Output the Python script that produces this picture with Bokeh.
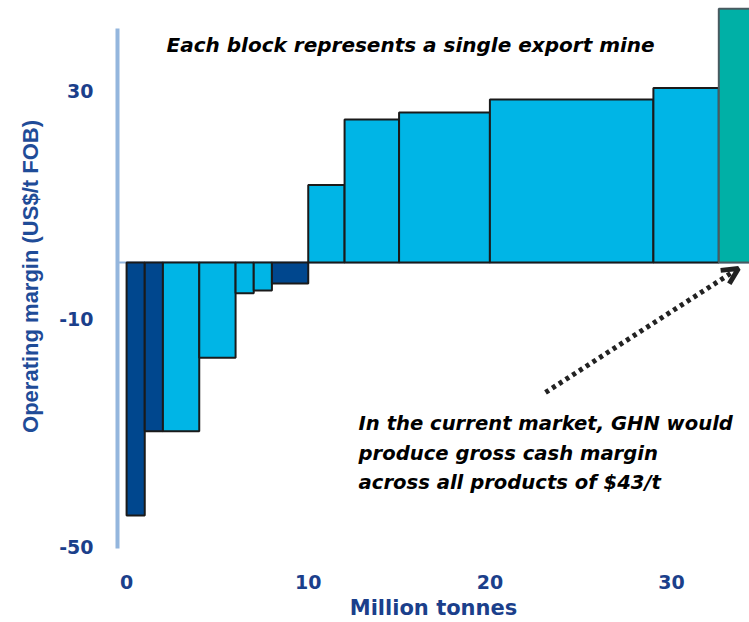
import numpy as np
from bokeh.plotting import figure
from bokeh.models import FixedTicker, Label, Arrow, OpenHead, Span, Range1d
from bokeh.embed import file_html
from bokeh.resources import INLINE

# ---- data ----
mine_volume_mt = [1, 1, 2, 2, 1, 1, 2, 2, 3, 5, 9, 3.6, 3.0]
operating_margin = [-44.4, -29.6, -29.6, -16.7, -5.4, -4.9, -3.7,
                    13.6, 25.1, 26.3, 28.6, 30.6, 44.5]
mine_group = ["dark", "dark", "light", "light", "light", "light", "dark",
              "light", "light", "light", "light", "light", "GHN"]
x_ticks = [0, 10, 20, 30]
x_tick_labels = ["0", "10", "20", "30"]
y_ticks = [-50, -10, 30]
y_tick_labels = ["-50", "-10", "30"]

palette = {"dark": "#00478e", "light": "#00b5e6", "GHN": "#00b0a6"}
outline = {"dark": "#1a1a1a", "light": "#1a1a1a", "GHN": "#4a5a60"}

right_edges = np.cumsum(mine_volume_mt)
left_edges = right_edges - np.array(mine_volume_mt)
colors = [palette[g] for g in mine_group]
edges = [outline[g] for g in mine_group]

W, H = 749, 622
p = figure(width=W, height=H, output_backend="svg", toolbar_location=None,
           x_range=Range1d(-0.5, 34.29), y_range=Range1d(-50.88, 45.96),
           min_border_left=117, min_border_right=0, min_border_top=0,
           min_border_bottom=70)
p.outline_line_color = None
p.xgrid.visible = False
p.ygrid.visible = False
p.background_fill_color = "white"

zero = Span(location=0, dimension="width", line_color="#94b6dd",
            line_width=2, level="underlay")
p.add_layout(zero)

p.quad(left=left_edges, right=right_edges, bottom=0, top=operating_margin,
       fill_color=colors, line_color=edges, line_width=2)

FONT = "Liberation Sans"
WIDE = "DejaVu Sans"
TICK_COL = "#1b3f8b"

# y axis
ya = p.yaxis[0]
ya.ticker = FixedTicker(ticks=y_ticks)
ya.major_label_overrides = {t: l for t, l in zip(y_ticks, y_tick_labels)}
ya.bounds = (-50.2, 41.0)
ya.axis_line_color = "#94b6dd"
ya.axis_line_width = 4
ya.major_tick_line_color = None
ya.minor_tick_line_color = None
ya.major_label_standoff = 18
ya.major_label_text_font = WIDE
ya.major_label_text_font_style = "bold"
ya.major_label_text_font_size = "19px"
ya.major_label_text_color = TICK_COL
ya.axis_label = "Operating margin (US$/t FOB)"
ya.axis_label_text_font = FONT
ya.axis_label_text_font_style = "bold"
ya.axis_label_text_font_size = "22px"
ya.axis_label_text_color = "#1f4c98"
ya.axis_label_standoff = 13

# x axis
xa = p.xaxis[0]
xa.ticker = FixedTicker(ticks=x_ticks)
xa.major_label_overrides = {t: l for t, l in zip(x_ticks, x_tick_labels)}
xa.axis_line_color = None
xa.major_tick_line_color = None
xa.minor_tick_line_color = None
xa.major_label_standoff = 16
xa.major_label_text_font = WIDE
xa.major_label_text_font_style = "bold"
xa.major_label_text_font_size = "19px"
xa.major_label_text_color = TICK_COL
xa.axis_label = "Million tonnes"
xa.axis_label_text_font = WIDE
xa.axis_label_text_font_style = "bold"
xa.axis_label_text_font_size = "21px"
xa.axis_label_text_color = TICK_COL
xa.axis_label_standoff = 4

# annotations
p.add_layout(Label(x=2.2, y=38.1, text="Each block represents a single export mine",
                   text_font=WIDE, text_font_style="bold italic",
                   text_font_size="20px", text_color="#000000",
                   text_baseline="middle", text_align="left"))
note_lines = ["In the current market, GHN would",
              "produce gross cash margin",
              "across all products of $43/t"]
for i, line in enumerate(note_lines):
    p.add_layout(Label(x=12.77, y=-28.25 - i * 5.18, text=line,
                       text_font=WIDE, text_font_style="bold italic",
                       text_font_size="19.6px", text_color="#000000",
                       text_baseline="middle", text_align="left"))

p.add_layout(Arrow(x_start=23.06, y_start=-22.8, x_end=33.68, y_end=-1.05,
                   line_color="#222222", line_width=5, line_dash="4 4",
                   end=OpenHead(size=16, line_width=5, line_color="#222222")))

open("out.html", "w").write(file_html(p, INLINE))
